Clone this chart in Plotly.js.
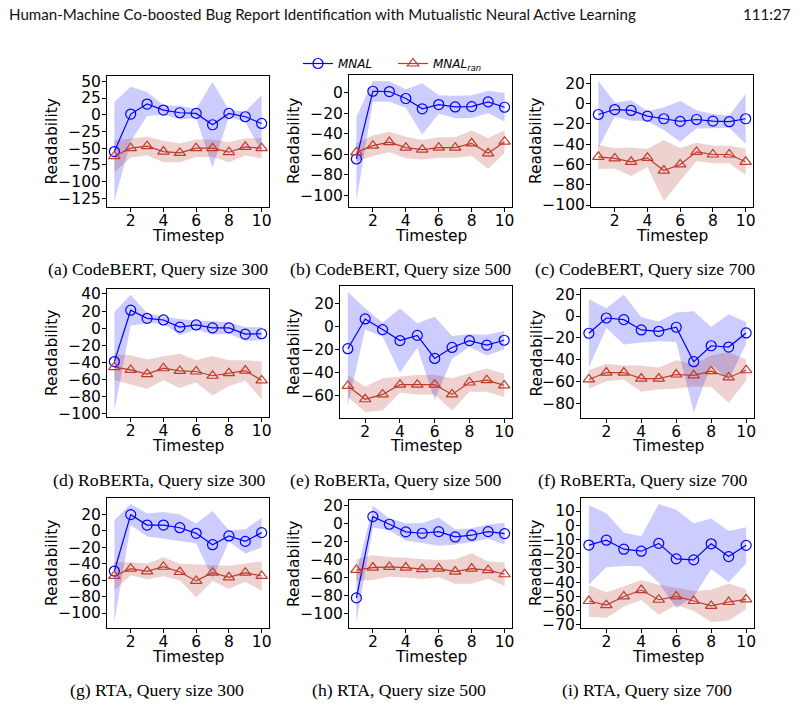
<!DOCTYPE html>
<html>
<head>
<meta charset="utf-8">
<script src="https://cdn.plot.ly/plotly-3.0.1.min.js"></script>
<style>
  html, body { margin: 0; padding: 0; background: #ffffff; }
  #chart { width: 800px; height: 708px; }
</style>
</head>
<body>
<div id="chart"></div>
<script>
// Timesteps shared by every panel
const timesteps = [1, 2, 3, 4, 5, 6, 7, 8, 9, 10];
const xTickVals = [2, 4, 6, 8, 10];

// (a) CodeBERT, query size 300 — mean readability and standard deviation
const mnalCodeBert300   = [-55, 1, 16, 7, 3, 2, -15, 2, -3, -13];
const mnalSdCodeBert300 = [74, 41, 18, 7, 10, 7, 64, 5, 8, 42];
const ranCodeBert300    = [-62, -50, -47, -55, -57, -50, -50, -56, -48, -50];
const ranSdCodeBert300  = [24, 14, 14, 16, 14, 13, 13, 15, 13, 15];

// (b) CodeBERT, query size 500
const mnalCodeBert500   = [-64.5, 1.6, 1.3, -5.5, -15.6, -11.4, -13.7, -13.4, -8.8, -14];
const mnalSdCodeBert500 = [41, 10, 10, 9, 25, 9, 11, 11, 11, 14];
const ranCodeBert500    = [-58, -51.5, -48, -53.4, -55.4, -53.4, -53.4, -49.2, -59, -47.6];
const ranSdCodeBert500  = [9, 10, 10, 10.5, 9.5, 10, 10, 12.5, 15, 11];

// (c) CodeBERT, query size 700
const mnalCodeBert700   = [-10.8, -5.9, -6.8, -12.4, -15, -17.6, -15.7, -17.3, -17.9, -15];
const mnalSdCodeBert700 = [33, 7, 10, 5, 11, 20, 9, 7, 6, 24.5];
const ranCodeBert700    = [-52.5, -54, -57.4, -53.5, -66, -60, -47.6, -50.2, -50.2, -57.4];
const ranSdCodeBert700  = [12, 10, 14, 9, 30, 16, 9, 8.5, 8.5, 13];

// (d) RoBERTa, query size 300
const mnalRoberta300   = [-39, 21, 11.5, 9.6, 1.2, 3.8, 0.4, 0.4, -6.9, -6.5];
const mnalSdRoberta300 = [58, 18, 6, 4, 9.5, 5, 8, 6.5, 8, 7.7];
const ranRoberta300    = [-45.6, -48.7, -53.7, -46.8, -49.9, -50.6, -55.6, -52.6, -49.5, -61];
const ranSdRoberta300  = [15, 17, 17, 14, 20, 13, 23, 15, 12, 22];

// (e) RoBERTa, query size 500
const mnalRoberta500   = [-19.3, 6.4, -2.8, -12.3, -7.8, -27.7, -18.2, -12.3, -16.2, -12];
const mnalSdRoberta500 = [49, 9.2, 6, 27.7, 10.6, 36, 9.8, 5.5, 9, 8];
const ranRoberta500    = [-51.5, -63, -58.8, -50.4, -50.4, -50.4, -58.8, -48.5, -46.5, -51];
const ranSdRoberta500  = [9.5, 11, 14, 7, 8.4, 8.4, 14, 8, 10, 10];

// (f) RoBERTa, query size 700
const mnalRoberta700   = [-15.7, -1.8, -3.3, -12.7, -13.9, -10.2, -41.6, -27.1, -28.3, -15.4];
const mnalSdRoberta700 = [31, 9, 22.6, 11.5, 9, 13.5, 46, 17, 30, 10];
const ranRoberta700    = [-57.8, -51.5, -51.5, -57, -57, -53.3, -54, -50.3, -56, -49.4];
const ranSdRoberta700  = [8.4, 8, 6.5, 12, 10, 13, 10, 14.5, 23, 9.6];

// (g) RTA, query size 300
const mnalRta300   = [-49, 19.5, 6.8, 6.8, 3.6, -3.2, -17, -6.4, -13, -2.4];
const mnalSdRta300 = [62, 13, 14, 16, 16, 12, 41, 7, 14.6, 18];
const ranRta300    = [-55, -46.2, -49.4, -43.8, -50.2, -61, -51, -56.6, -51, -55];
const ranSdRta300  = [17, 8, 9.5, 11.5, 10, 20, 10, 14, 11, 18];

// (h) RTA, query size 500
const mnalRta500   = [-83, 7.4, -1.1, -9.6, -11.1, -9.3, -15.2, -13.3, -9.3, -11.5];
const mnalSdRta500 = [27, 12, 6.7, 9.6, 11, 15.6, 8.5, 7.7, 8, 12];
const ranRta500    = [-51.9, -49.3, -48.5, -49.3, -51.1, -50.4, -53.7, -50.4, -52.2, -56.7];
const ranSdRta500  = [12, 13.7, 11, 11, 11, 9.5, 13.7, 17, 9.6, 13];

// (i) RTA, query size 700
const mnalRta700   = [-13.9, -10.5, -16.8, -18.2, -12.7, -23.6, -24.3, -13, -22, -14.1];
const mnalSdRta700 = [27.8, 19, 11.8, 10.5, 27.7, 34.5, 25.7, 17.8, 18, 12.7];
const ranRta700    = [-53.2, -56.1, -50, -45.5, -52.3, -50, -53.2, -56.6, -53.9, -52];
const ranSdRta700  = [11, 9, 7, 7, 10.5, 6, 7, 11.4, 13, 7];

const captions = [
  '(a) CodeBERT, Query size 300', '(b) CodeBERT, Query size 500', '(c) CodeBERT, Query size 700',
  '(d) RoBERTa, Query size 300',  '(e) RoBERTa, Query size 500',  '(f) RoBERTa, Query size 700',
  '(g) RTA, Query size 300',      '(h) RTA, Query size 500',      '(i) RTA, Query size 700'
];
const seriesNames = ['<i>MNAL</i>', '<i>MNAL<sub>ran</sub></i>'];
const xTitle = 'Timestep';
const yTitle = 'Readability';

// Panel setup: data references, y tick spacing, pixel box [left, right, top, bottom],
// caption centre and the distance of the y title from the left spine
const W = 800, H = 708;
const panels = [
  { mnal: mnalCodeBert300, mnalSd: mnalSdCodeBert300, ran: ranCodeBert300, ranSd: ranSdCodeBert300, dtick: 25, box: [107, 269, 76, 207], cap: [158, 269], yOff: 55 },
  { mnal: mnalCodeBert500, mnalSd: mnalSdCodeBert500, ran: ranCodeBert500, ranSd: ranSdCodeBert500, dtick: 20, box: [349, 512, 75, 207], cap: [400, 269], yOff: 55 },
  { mnal: mnalCodeBert700, mnalSd: mnalSdCodeBert700, ran: ranCodeBert700, ranSd: ranSdCodeBert700, dtick: 20, box: [591, 753, 75, 207], cap: [645, 269], yOff: 55 },
  { mnal: mnalRoberta300,  mnalSd: mnalSdRoberta300,  ran: ranRoberta300,  ranSd: ranSdRoberta300,  dtick: 20, box: [107, 269, 289, 417], cap: [159, 480], yOff: 55 },
  { mnal: mnalRoberta500,  mnalSd: mnalSdRoberta500,  ran: ranRoberta500,  ranSd: ranSdRoberta500,  dtick: 20, box: [340, 512, 286, 418], cap: [396, 480], yOff: 46 },
  { mnal: mnalRoberta700,  mnalSd: mnalSdRoberta700,  ran: ranRoberta700,  ranSd: ranSdRoberta700,  dtick: 20, box: [581, 754, 289, 418], cap: [643, 480], yOff: 45 },
  { mnal: mnalRta300,      mnalSd: mnalSdRta300,      ran: ranRta300,      ranSd: ranSdRta300,      dtick: 20, box: [107, 269, 498, 628], cap: [157, 690], yOff: 55 },
  { mnal: mnalRta500,      mnalSd: mnalSdRta500,      ran: ranRta500,      ranSd: ranSdRta500,      dtick: 20, box: [349, 512, 500, 628], cap: [399, 690], yOff: 55 },
  { mnal: mnalRta700,      mnalSd: mnalSdRta700,      ran: ranRta700,      ranSd: ranSdRta700,      dtick: 10, box: [581, 754, 498, 628], cap: [647, 690], yOff: 45 }
];

const BLUE = '#0000ff';
const BLUE_FILL = 'rgba(0,0,255,0.2)';
const RED = '#bf3b2c';
const RED_FILL = 'rgba(172,50,38,0.22)';
const tickFont = { family: 'DejaVu Sans, sans-serif', size: 15.5, color: '#000' };
const legendFont = { family: 'DejaVu Sans, sans-serif', size: 12, color: '#000' };

const traces = [];
const layout = {
  width: W, height: H,
  margin: { l: 0, r: 0, t: 0, b: 0 },
  paper_bgcolor: '#ffffff', plot_bgcolor: '#ffffff',
  showlegend: true,
  legend:  { orientation: 'h', x: 298 / W, xanchor: 'left', y: 1 - 49 / H, yanchor: 'top',
             font: legendFont, bgcolor: 'rgba(0,0,0,0)' },
  legend2: { orientation: 'h', x: 393 / W, xanchor: 'left', y: 1 - 49 / H, yanchor: 'top',
             font: legendFont, bgcolor: 'rgba(0,0,0,0)' },
  annotations: [],
  hovermode: false
};

const upperOf = (m, s) => m.map((v, k) => v + s[k]);
const lowerOf = (m, s) => m.map((v, k) => v - s[k]);
// tick text with a true minus sign
const fmtTick = v => (v < 0 ? '\u2212' + Math.abs(v) : String(v));

panels.forEach((p, i) => {
  const sfx = i === 0 ? '' : String(i + 1);
  const xa = 'x' + sfx, ya = 'y' + sfx;
  const back = timesteps.slice().reverse();

  const mUp = upperOf(p.mnal, p.mnalSd), mLo = lowerOf(p.mnal, p.mnalSd);
  const rUp = upperOf(p.ran, p.ranSd), rLo = lowerOf(p.ran, p.ranSd);

  // shaded spread bands (mean ± std)
  traces.push({
    x: timesteps.concat(back), y: mUp.concat(mLo.slice().reverse()),
    type: 'scatter', mode: 'lines', fill: 'toself', fillcolor: BLUE_FILL,
    line: { width: 0, color: 'rgba(0,0,0,0)' }, showlegend: false, hoverinfo: 'skip',
    xaxis: xa, yaxis: ya
  });
  traces.push({
    x: timesteps.concat(back), y: rUp.concat(rLo.slice().reverse()),
    type: 'scatter', mode: 'lines', fill: 'toself', fillcolor: RED_FILL,
    line: { width: 0, color: 'rgba(0,0,0,0)' }, showlegend: false, hoverinfo: 'skip',
    xaxis: xa, yaxis: ya
  });
  // mean curves
  traces.push({
    x: timesteps, y: p.mnal, name: seriesNames[0], legend: 'legend',
    type: 'scatter', mode: 'lines+markers',
    line: { color: BLUE, width: 1.2 },
    marker: { symbol: 'circle-open', size: 10, color: BLUE, line: { color: BLUE, width: 1.2 } },
    showlegend: i === 0, xaxis: xa, yaxis: ya
  });
  traces.push({
    x: timesteps, y: p.ran, name: seriesNames[1], legend: 'legend2',
    type: 'scatter', mode: 'lines+markers',
    line: { color: RED, width: 1.2 },
    marker: { symbol: 'triangle-up-open', size: 10, color: RED, line: { color: RED, width: 1.2 } },
    showlegend: i === 0, xaxis: xa, yaxis: ya
  });

  // y range: data extent with 5% padding
  const all = mUp.concat(mLo, rUp, rLo);
  const lo = Math.min(...all), hi = Math.max(...all);
  const pad = 0.05 * (hi - lo);
  const yRange = [lo - pad, hi + pad];
  const yTicks = [];
  for (let v = Math.ceil(yRange[0] / p.dtick) * p.dtick; v <= yRange[1]; v += p.dtick) yTicks.push(v);

  const [x0, x1, y0, y1] = p.box;
  const common = {
    showline: true, linecolor: '#000', linewidth: 1, mirror: true,
    ticks: 'outside', ticklen: 4, tickwidth: 1, tickcolor: '#000',
    showgrid: false, zeroline: false, tickfont: tickFont, fixedrange: true
  };
  layout['xaxis' + sfx] = Object.assign({}, common, {
    domain: [x0 / W, x1 / W], anchor: ya,
    range: [0.55, 10.45], tickmode: 'array', tickvals: xTickVals,
    ticktext: xTickVals.map(fmtTick), ticklabelstandoff: -5
  });
  layout['yaxis' + sfx] = Object.assign({}, common, {
    domain: [1 - y1 / H, 1 - y0 / H], anchor: xa,
    range: yRange, tickmode: 'array', tickvals: yTicks,
    ticktext: yTicks.map(fmtTick), ticklabelstandoff: -2
  });

  // axis titles
  layout.annotations.push({
    text: xTitle, xref: 'paper', yref: 'paper',
    x: (x0 + x1) / 2 / W, y: 1 - (y1 + 28.5) / H, xanchor: 'center', yanchor: 'middle',
    showarrow: false, font: tickFont
  });
  layout.annotations.push({
    text: yTitle, xref: 'paper', yref: 'paper', textangle: -90,
    x: (x0 - p.yOff) / W, y: 1 - (y0 + y1) / 2 / H, xanchor: 'center', yanchor: 'middle',
    showarrow: false, font: tickFont
  });

  // panel caption
  layout.annotations.push({
    text: captions[i], xref: 'paper', yref: 'paper',
    x: p.cap[0] / W, y: 1 - p.cap[1] / H, xanchor: 'center', yanchor: 'middle',
    showarrow: false, font: { family: 'Liberation Serif, serif', size: 17.7, color: '#000' }
  });
});

// running header of the page
layout.annotations.push({
  text: 'Human-Machine Co-boosted Bug Report Identification with Mutualistic Neural Active Learning',
  xref: 'paper', yref: 'paper', x: 7 / W, y: 1 - 14 / H, xanchor: 'left', yanchor: 'middle',
  showarrow: false, font: { family: 'Lato, sans-serif', size: 15.1, color: '#111' }
});
layout.annotations.push({
  text: '111:27',
  xref: 'paper', yref: 'paper', x: 793 / W, y: 1 - 14 / H, xanchor: 'right', yanchor: 'middle',
  showarrow: false, font: { family: 'Lato, sans-serif', size: 15.1, color: '#111' }
});

Plotly.newPlot('chart', traces, layout, { staticPlot: true, displayModeBar: false });
</script>
</body>
</html>
